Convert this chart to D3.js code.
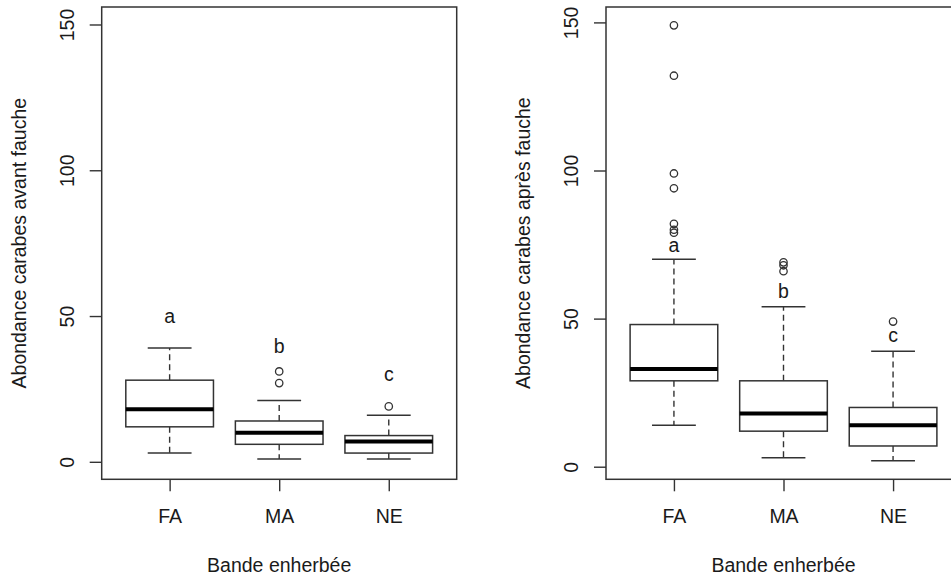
<!DOCTYPE html>
<html>
<head>
<meta charset="utf-8">
<script src="https://cdn.jsdelivr.net/npm/d3@7"></script>
<style>
  html, body { margin: 0; padding: 0; background: #fff; }
  svg { display: block; }
  text { font-family: "Liberation Sans", Arial, sans-serif; fill: #1a1a1a; }
</style>
</head>
<body>
<svg id="chart" width="951" height="580"></svg>
<script>
// ---------- data ----------
const categories = ["FA", "MA", "NE"];
const yTicks = [0, 50, 100, 150];

// Panel 1: before mowing
const beforeLowWhisker = [3, 1, 1];
const beforeQ1         = [12, 6, 3];
const beforeMedian     = [18, 10, 7];
const beforeQ3         = [28, 14, 9];
const beforeHighWhisker= [39, 21, 16];
const beforeOutliers   = [[], [31, 27], [19]];
const beforeLetters    = ["a", "b", "c"];
const beforeLetterY    = [50, 39.5, 30];

// Panel 2: after mowing
const afterLowWhisker  = [14, 3, 2];
const afterQ1          = [29, 12, 7];
const afterMedian      = [33, 18, 14];
const afterQ3          = [48, 29, 20];
const afterHighWhisker = [70, 54, 39];
const afterOutliers    = [[149, 132, 99, 94, 82, 80, 79], [69, 68, 66], [49]];
const afterLetters     = ["a", "b", "c"];
const afterLetterY     = [74.8, 59.4, 44.4];

const xTitle = "Bande enherbée";
const yTitles = ["Abondance carabes avant fauche", "Abondance carabes après fauche"];

// ---------- drawing ----------
const svg = d3.select("#chart");
const FONT = 19.5;
const INK = "#333";

const panels = [
  { left: 101.7, right: 456.7, yDomain: [-6, 156],
    lo: beforeLowWhisker, q1: beforeQ1, med: beforeMedian, q3: beforeQ3, hi: beforeHighWhisker,
    out: beforeOutliers, letters: beforeLetters, letterY: beforeLetterY, yTitle: yTitles[0] },
  { left: 606, right: 961, yDomain: [-4.25, 155.2],
    lo: afterLowWhisker, q1: afterQ1, med: afterMedian, q3: afterQ3, hi: afterHighWhisker,
    out: afterOutliers, letters: afterLetters, letterY: afterLetterY, yTitle: yTitles[1] }
];

const plotTop = 7, plotBottom = 479.3;

panels.forEach(p => {
  const g = svg.append("g");
  const x = d3.scaleLinear().domain([0.38, 3.62]).range([p.left, p.right]);
  const y = d3.scaleLinear().domain(p.yDomain).range([plotBottom, plotTop]);
  const boxW = x(1.8) - x(1);      // 0.8 units wide
  const capW = boxW / 2;

  const data = categories.map((c, i) => ({
    c, i, pos: i + 1, lo: p.lo[i], q1: p.q1[i], med: p.med[i], q3: p.q3[i], hi: p.hi[i],
    out: p.out[i], letter: p.letters[i], ly: p.letterY[i]
  }));

  const bg = g.selectAll("g.box").data(data).join("g").attr("class", "box");

  // whiskers (dashed)
  bg.append("line")
    .attr("x1", d => x(d.pos)).attr("x2", d => x(d.pos))
    .attr("y1", d => y(d.q3)).attr("y2", d => y(d.hi))
    .attr("stroke", INK).attr("stroke-width", 1.4).attr("stroke-dasharray", "6,4");
  bg.append("line")
    .attr("x1", d => x(d.pos)).attr("x2", d => x(d.pos))
    .attr("y1", d => y(d.q1)).attr("y2", d => y(d.lo))
    .attr("stroke", INK).attr("stroke-width", 1.4).attr("stroke-dasharray", "6,4");
  // caps
  bg.append("line")
    .attr("x1", d => x(d.pos) - capW / 2).attr("x2", d => x(d.pos) + capW / 2)
    .attr("y1", d => y(d.hi)).attr("y2", d => y(d.hi))
    .attr("stroke", INK).attr("stroke-width", 1.5);
  bg.append("line")
    .attr("x1", d => x(d.pos) - capW / 2).attr("x2", d => x(d.pos) + capW / 2)
    .attr("y1", d => y(d.lo)).attr("y2", d => y(d.lo))
    .attr("stroke", INK).attr("stroke-width", 1.5);
  // box
  bg.append("rect")
    .attr("x", d => x(d.pos) - boxW / 2).attr("width", boxW)
    .attr("y", d => y(d.q3)).attr("height", d => y(d.q1) - y(d.q3))
    .attr("fill", "#fff").attr("stroke", INK).attr("stroke-width", 1.5);
  // median
  bg.append("line")
    .attr("x1", d => x(d.pos) - boxW / 2).attr("x2", d => x(d.pos) + boxW / 2)
    .attr("y1", d => y(d.med)).attr("y2", d => y(d.med))
    .attr("stroke", "#000").attr("stroke-width", 4);
  // outliers
  bg.selectAll("circle").data(d => d.out.map(v => ({ pos: d.pos, v }))).join("circle")
    .attr("cx", d => x(d.pos)).attr("cy", d => y(d.v)).attr("r", 3.7)
    .attr("fill", "none").attr("stroke", INK).attr("stroke-width", 1.3);
  // letters
  bg.append("text")
    .attr("x", d => x(d.pos)).attr("y", d => y(d.ly)).attr("dy", "0.35em")
    .attr("text-anchor", "middle").attr("font-size", FONT)
    .text(d => d.letter);

  // frame
  g.append("rect")
    .attr("x", p.left).attr("y", plotTop).attr("width", p.right - p.left).attr("height", plotBottom - plotTop)
    .attr("fill", "none").attr("stroke", INK).attr("stroke-width", 1.5);

  // y axis
  const ya = g.append("g").attr("transform", `translate(${p.left},0)`)
    .call(d3.axisLeft(y).tickValues(yTicks).tickSize(12).tickFormat(d3.format("d")));
  ya.select(".domain").remove();
  ya.selectAll(".tick line").attr("stroke", INK).attr("stroke-width", 1.4);
  ya.selectAll(".tick text")
    .attr("transform", "rotate(-90)").attr("x", 0).attr("y", -35).attr("dy", "0.35em")
    .attr("text-anchor", "middle").attr("font-size", FONT)
    .attr("font-family", "Liberation Sans, Arial, sans-serif").attr("fill", "#1a1a1a");

  // x axis
  const xa = g.append("g").attr("transform", `translate(0,${plotBottom})`)
    .call(d3.axisBottom(x).tickValues([1, 2, 3]).tickSize(12).tickFormat((d, i) => categories[i]));
  xa.select(".domain").remove();
  xa.selectAll(".tick line").attr("stroke", INK).attr("stroke-width", 1.4);
  xa.selectAll(".tick text")
    .attr("y", 36.7).attr("dy", "0.35em").attr("font-size", FONT)
    .attr("font-family", "Liberation Sans, Arial, sans-serif").attr("fill", "#1a1a1a");

  // titles
  g.append("text")
    .attr("x", (p.left + p.right) / 2).attr("y", 565).attr("dy", "0.35em")
    .attr("text-anchor", "middle").attr("font-size", FONT).text(xTitle);
  g.append("text")
    .attr("transform", `translate(${p.left - 83},${(plotTop + plotBottom) / 2}) rotate(-90)`)
    .attr("dy", "0.35em").attr("text-anchor", "middle").attr("font-size", FONT).text(p.yTitle);
});
</script>
</body>
</html>
